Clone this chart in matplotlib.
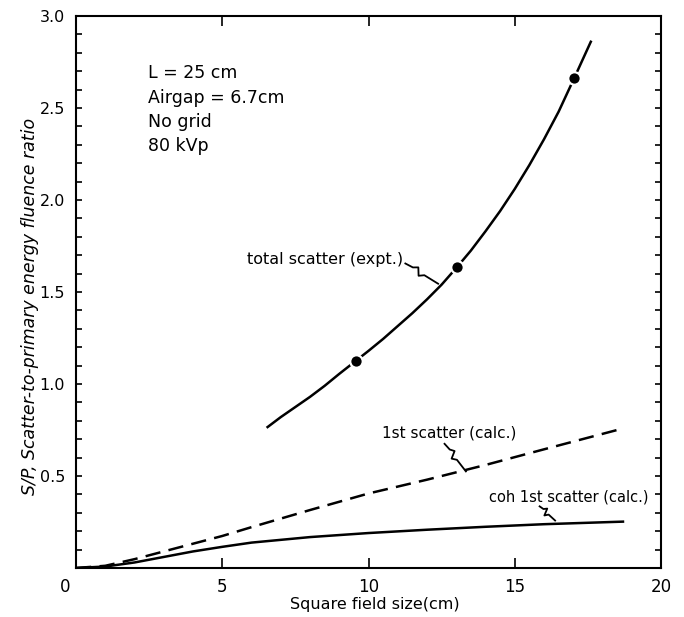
import numpy as np
import matplotlib
matplotlib.use("Agg")
import matplotlib.pyplot as plt
from matplotlib.ticker import MultipleLocator, FixedLocator
from matplotlib.transforms import ScaledTranslation

plt.rcParams['font.family'] = ['DejaVu Sans']
plt.rcParams['lines.scale_dashes'] = False

# Total scatter (experiment): smooth curve and measured points
total_x = [6.55, 7.0, 7.5, 8.0, 8.5, 9.0, 9.56, 10.0, 10.5, 11.0, 11.5, 12.0,
           12.5, 13.03, 13.5, 14.0, 14.5, 15.0, 15.5, 16.0, 16.5, 17.04, 17.6]
total_y = [0.766, 0.82, 0.875, 0.93, 0.99, 1.055, 1.125, 1.18, 1.245, 1.315, 1.385, 1.46,
           1.54, 1.636, 1.725, 1.83, 1.94, 2.06, 2.19, 2.33, 2.48, 2.665, 2.86]
expt_x = [9.56, 13.03, 17.04]
expt_y = [1.125, 1.636, 2.665]

# First scatter (calculated)
first_x = [0, 1, 2, 3, 4, 5, 6, 8, 10, 12, 14, 16, 18.5]
first_y = [0.0, 0.012, 0.048, 0.09, 0.132, 0.174, 0.222, 0.315, 0.405, 0.48, 0.56, 0.645, 0.75]

# Coherent first scatter (calculated)
coh_x = [0, 1, 2, 3, 4, 5, 6, 8, 10, 12, 14, 16, 18.7]
coh_y = [0.0, 0.008, 0.03, 0.06, 0.09, 0.115, 0.138, 0.168, 0.19, 0.208, 0.224, 0.238, 0.252]

x_ticks = [0, 5, 10, 15, 20]
x_tick_labels = ["0", "5", "10", "15", "20"]
y_ticks = [0.5, 1.0, 1.5, 2.0, 2.5, 3.0]
y_tick_labels = ["0.5", "1.0", "1.5", "2.0", "2.5", "3.0"]

fig = plt.figure(figsize=(6.84, 6.17), dpi=100)
ax = fig.add_axes([76 / 684, 1 - 568 / 617, (661 - 76) / 684, (568 - 16) / 617])
ax.set_xlim(0, 20)
ax.set_ylim(0, 3.0)

lw = 1.8
ax.plot(total_x, total_y, color='black', lw=lw, solid_joinstyle='round')
ax.plot(expt_x, expt_y, 'o', color='black', ms=9, mec='white', mew=1.6)
ax.plot(first_x, first_y, color='black', lw=lw, dashes=(11, 6))
ax.plot(coh_x, coh_y, color='black', lw=lw, solid_joinstyle='round')

for s in ax.spines.values():
    s.set_linewidth(1.5)

ax.xaxis.set_major_locator(FixedLocator(x_ticks))
ax.set_xticklabels(x_tick_labels, fontsize=12)
ax.yaxis.set_major_locator(FixedLocator(y_ticks))
ax.set_yticklabels(y_tick_labels, fontsize=11.5)
ax.yaxis.set_minor_locator(MultipleLocator(0.1))
ax.tick_params(axis='x', which='major', direction='in', length=7, width=1.2,
               top=True, pad=7)
ax.tick_params(axis='y', which='both', direction='in', length=4.5, width=1.2,
               right=True, pad=8)
# nudge the origin label a little left of the corner
lbl0 = ax.get_xticklabels()[0]
lbl0.set_transform(lbl0.get_transform() + ScaledTranslation(-11 / 100, 0, fig.dpi_scale_trans))

fig.text(375 / 684, 1 - 604 / 617, "Square field size(cm)", fontsize=11.5,
         ha='center', va='center')
fig.text(30 / 684, 1 - 306 / 617, "S/P, Scatter-to-primary energy fluence ratio",
         rotation=90, fontsize=12.5, style='italic', ha='center', va='center')

# conditions block
cond = ["L = 25 cm", "Airgap = 6.7cm", "No grid", "80 kVp"]
for i, line in enumerate(cond):
    ax.text(2.45, 2.69 - i * 0.133, line, fontsize=12.5, ha='left', va='center')


def squiggle(x0, y0, x1, y1, amp=3.5):
    """Wavy leader line from (x0, y0) to (x1, y1) in data coordinates."""
    p0 = ax.transData.transform((x0, y0))
    p1 = ax.transData.transform((x1, y1))
    d = p1 - p0
    n = np.array([-d[1], d[0]]) / np.hypot(*d)
    ts = [0.0, 0.22, 0.34, 0.46, 0.58, 1.0]
    offs = [0.0, 0.6, amp, -amp, 0.0, 0.0]
    pts = np.array([p0 + t * d + o * n for t, o in zip(ts, offs)])
    data_pts = ax.transData.inverted().transform(pts)
    ax.plot(data_pts[:, 0], data_pts[:, 1], color='black', lw=1.3)


ax.text(11.2, 1.676, "total scatter (expt.)", fontsize=11.5, ha='right', va='center')
squiggle(11.26, 1.655, 12.38, 1.545)

ax.text(12.75, 0.735, "1st scatter (calc.)", fontsize=11, ha='center', va='center')
squiggle(12.6, 0.675, 13.33, 0.525)

ax.text(16.85, 0.386, "coh 1st scatter (calc.)", fontsize=10.5, ha='center', va='center')
squiggle(15.85, 0.335, 16.38, 0.258)

fig.savefig("out.png", dpi=100)
